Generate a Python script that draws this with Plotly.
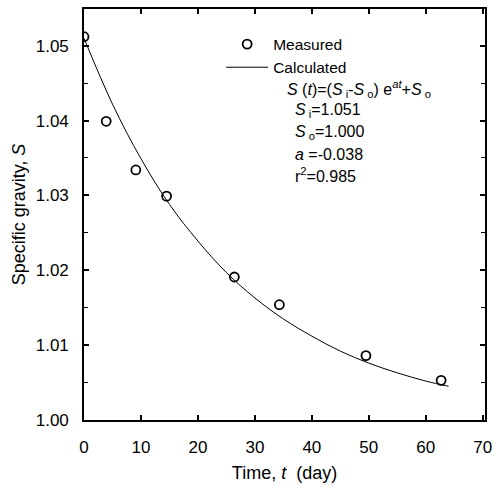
import plotly.graph_objects as go

# measured specific gravity vs time
t_measured = [0.0, 3.9, 9.1, 14.5, 26.4, 34.3, 49.5, 62.7]
s_measured = [1.0512, 1.0399, 1.0334, 1.0299, 1.0191, 1.0154, 1.0086, 1.0053]

# calculated curve
t_calc = [0, 5, 10, 15, 20, 25, 30, 35, 40, 45, 50, 55, 60, 64]
s_calc = [1.0510, 1.0422, 1.0349, 1.0288, 1.0239, 1.0197, 1.0163,
          1.0135, 1.0112, 1.0092, 1.0076, 1.0063, 1.0052, 1.0045]

x_ticks = [0, 10, 20, 30, 40, 50, 60, 70]
y_ticks = [1.00, 1.01, 1.02, 1.03, 1.04, 1.05]
y_tick_labels = ["1.00", "1.01", "1.02", "1.03", "1.04", "1.05"]

equation_lines = [
    "<i>S</i> (<i>t</i>)=(<i>S</i><sub> i</sub>-<i>S</i><sub> o</sub>) e<sup><i>at</i></sup>+<i>S</i><sub> o</sub>",
    "<i>S</i><sub> i</sub>=1.051",
    "<i>S</i><sub> o</sub>=1.000",
    "<i>a</i> =-0.038",
    "r<sup>2</sup>=0.985",
]

FONT = "Arial, Liberation Sans, sans-serif"

fig = go.Figure()

fig.add_trace(
    go.Scatter(
        x=t_measured, y=s_measured,
        mode="markers",
        marker=dict(symbol="circle-open", size=9, color="black",
                    line=dict(width=1.8, color="black")),
        name="Measured",
    )
)
fig.add_trace(
    go.Scatter(
        x=t_calc, y=s_calc,
        mode="lines",
        line=dict(color="black", width=1, shape="spline"),
        name="Calculated",
    )
)

# equation block, left aligned under the legend
eq_x = [0.500, 0.522, 0.522, 0.522, 0.522]
eq_y = [0.806, 0.752, 0.699, 0.646, 0.597]
for txt, ex, ey in zip(equation_lines, eq_x, eq_y):
    fig.add_annotation(
        x=ex, y=ey, xref="paper", yref="paper",
        text=txt, showarrow=False, xanchor="left", yanchor="middle",
        font=dict(size=16, color="black", family=FONT),
    )

axis_common = dict(
    showgrid=False, zeroline=False,
    showline=True, linecolor="black", linewidth=1.6,
    mirror="ticks", ticks="inside", ticklen=5, tickwidth=1.5,
    tickcolor="black",
    tickfont=dict(size=17, color="black", family=FONT),
)

fig.update_layout(
    width=499, height=490,
    margin=dict(l=84, r=12, t=7, b=70),
    paper_bgcolor="white", plot_bgcolor="white",
    font=dict(family=FONT, color="black"),
    showlegend=True,
    legend=dict(
        x=0.342, y=0.955, xanchor="left", yanchor="top",
        bgcolor="rgba(0,0,0,0)", borderwidth=0,
        font=dict(size=15.5, color="black", family=FONT),
        tracegroupgap=0, itemwidth=42,
    ),
    xaxis=dict(
        range=[0, 70.4], tickvals=x_ticks, ticklabelstandoff=11,
        title=dict(text="Time, <i>t</i>  (day)", standoff=10,
                   font=dict(size=18, color="black", family=FONT)),
        **axis_common,
    ),
    yaxis=dict(
        range=[1.0, 1.0549], tickvals=y_ticks, ticktext=y_tick_labels,
        ticklabelstandoff=10,
        minor=dict(dtick=0.005, ticks="inside", ticklen=4, tickwidth=1.2,
                   tickcolor="black"),
        title=dict(text="Specific gravity, <i>S</i>", standoff=5,
                   font=dict(size=18, color="black", family=FONT)),
        **axis_common,
    ),
)

# drop the page's default body margin so the figure sits at the window origin
fig.write_html(
    "out.html",
    config={"displayModeBar": False},
    post_script="document.body.style.margin='0';",
)
